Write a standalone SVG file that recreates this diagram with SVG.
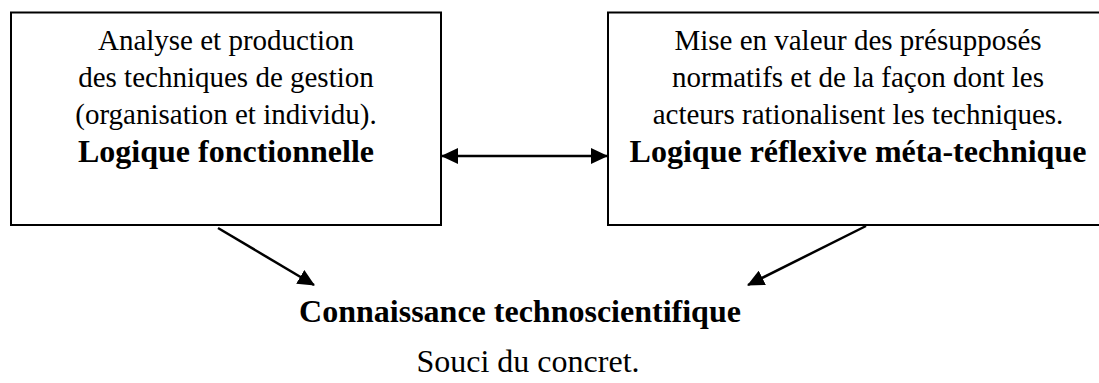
<svg xmlns="http://www.w3.org/2000/svg" width="1099" height="383" viewBox="0 0 1099 383">
<style>
.box{fill:#fff;stroke:#000;stroke-width:2}
.t{font-family:"Liberation Serif","Times New Roman",serif;font-size:29px;fill:#000;text-anchor:middle}
.b{font-family:"Liberation Serif","Times New Roman",serif;font-size:32px;font-weight:bold;fill:#000;text-anchor:middle}
.s{font-family:"Liberation Serif","Times New Roman",serif;font-size:32px;fill:#000;text-anchor:middle}
.c{stroke:#000;stroke-width:2.5;fill:none}
</style>
<defs>
<marker id="ah" markerUnits="userSpaceOnUse" markerWidth="17" markerHeight="16" refX="16" refY="8" orient="auto-start-reverse" viewBox="0 0 17 16">
<path d="M0,0 L17,8 L0,16 z" fill="#000"/>
</marker>
</defs>
<rect width="1099" height="383" fill="#fff"/>
<g id="node-fonctionnelle">
<rect class="box" x="11" y="12.5" width="430" height="212.5"/>
<text class="t" x="226" y="50">Analyse et production</text>
<text class="t" x="226" y="86.5">des techniques de gestion</text>
<text class="t" x="226" y="124">(organisation et individu).</text>
<text class="b" x="226" y="162">Logique fonctionnelle</text>
</g>
<g id="node-reflexive">
<rect class="box" x="608" y="12.5" width="500" height="212.5"/>
<text class="t" x="858" y="50">Mise en valeur des présupposés</text>
<text class="t" x="858" y="86.5">normatifs et de la façon dont les</text>
<text class="t" x="858" y="124">acteurs rationalisent les techniques.</text>
<text class="b" x="858" y="162">Logique réflexive méta-technique</text>
</g>
<g id="node-connaissance">
<text class="b" x="520" y="322">Connaissance technoscientifique</text>
<text class="s" x="528" y="372">Souci du concret.</text>
</g>
<g id="connectors">
<line class="c" x1="442" y1="156" x2="607" y2="156" marker-start="url(#ah)" marker-end="url(#ah)"/>
<line class="c" x1="218" y1="228" x2="314" y2="285" marker-end="url(#ah)"/>
<line class="c" x1="866" y1="226" x2="748" y2="285" marker-end="url(#ah)"/>
</g>
</svg>
